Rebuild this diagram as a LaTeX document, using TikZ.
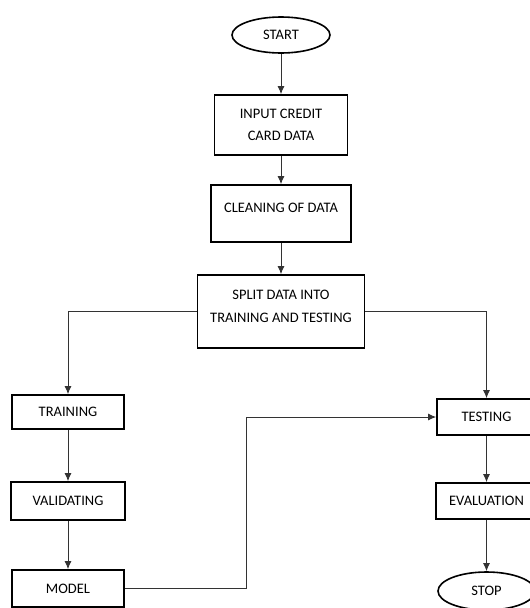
\documentclass[tikz,border=0pt]{standalone}
\usepackage{fontspec}
\setmainfont{Carlito}
\usetikzlibrary{shapes,arrows,arrows.meta}
\begin{document}
\begin{tikzpicture}[x=1pt,y=-1pt]
		\tikzstyle{every node}=[font=\fontsize{14.5}{22.5}\selectfont]
		\tikzstyle{box}=[draw, line width=1.6pt, rectangle, align=center, inner sep=0pt]
		\tikzstyle{term}=[draw, line width=1.6pt, ellipse, inner sep=0pt]
		\tikzstyle{line}=[draw=black!80, line width=1pt, -{Latex[length=8pt,width=7pt]}]
		\useasboundingbox (0,0) rectangle (530,608);
		
		\node [term, minimum width=98pt, minimum height=36pt] (start) at (281,35) {START};
		\node [box, minimum width=133pt, minimum height=60pt] (input) at (281,125) {INPUT CREDIT\\CARD DATA};
		\node [box, minimum width=140pt, minimum height=57pt] (clean) at (281,213.5) {CLEANING OF DATA\\[-11pt]\mbox{}};
		\node [box, minimum width=167pt, minimum height=73pt] (split) at (281,311.5) {SPLIT DATA INTO\\TRAINING AND TESTING\\[-12pt]\mbox{}};
		
		\node [box, minimum width=112pt, minimum height=34pt] (train) at (68,412) {TRAINING};
		\node [box, minimum width=114pt, minimum height=38pt] (valid) at (68,501) {VALIDATING};
		\node [box, minimum width=112pt, minimum height=37pt] (model) at (68,588.5) {MODEL};
		
		\node [box, minimum width=99pt, minimum height=36pt] (test) at (486.5,417) {TESTING};
		\node [box, minimum width=101pt, minimum height=36pt] (eval) at (486.5,501) {EVALUATION};
		\node [term, minimum width=97pt, minimum height=38pt] (stop) at (486.5,591) {STOP};
		\coordinate (turn) at (246,0);
		
		
		\draw [line] (start) -- (input);
		\draw [line] (input) -- (clean);
		\draw [line] (clean) -- (split);
		\draw [line] (split.west) -| (train.north);
		\draw [line] (split.east) -| (test.north);
		\draw [line] (train) -- (valid);
		\draw [line] (valid) -- (model);
		\draw [line] (model.east) -| (turn |- test.west) -- (test.west);
		\draw [line] (test) -- (eval);
		\draw [line] (eval) -- (stop);
		
		\end{tikzpicture}
\end{document}
